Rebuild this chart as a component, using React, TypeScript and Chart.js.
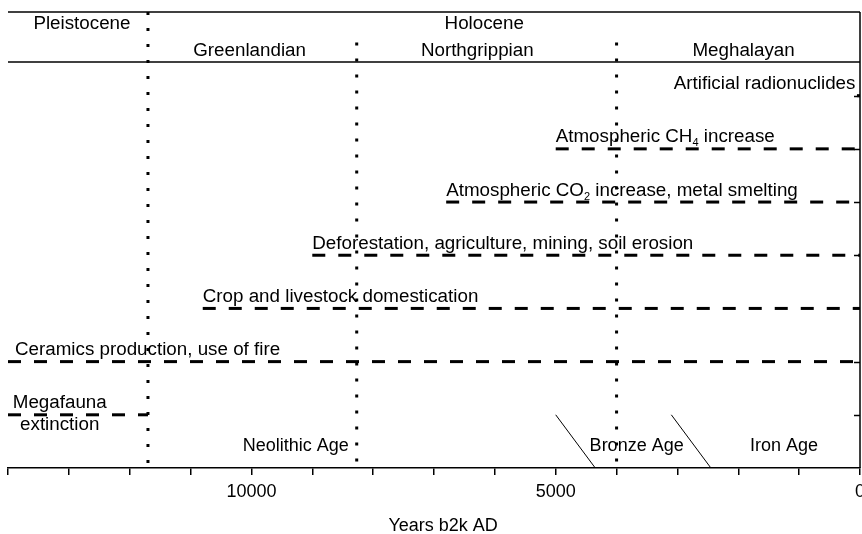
import React, { useEffect, useRef } from "react";
import { Chart, registerables } from "chart.js";
Chart.register(...registerables);

const FONT = '"Liberation Sans", Arial, Helvetica, sans-serif';

// X axis (years b2k, reversed)
const xMin = 0;
const xMax = 14000;
const xStep = 1000;
const xTickLabels = [10000, 5000, 0];
const xTitle = "Years b2k AD";
const xTitleAt = 6850;

// Y extent (rows 1..7, header above)
const yMax = 8.573;
const headerLineY = [8.573, 7.633];

// Event rows
const rowLabels = [
  "Megafauna",
  "Ceramics production, use of fire",
  "Crop and livestock domestication",
  "Deforestation, agriculture, mining, soil erosion",
  "Atmospheric CO_2 increase, metal smelting",
  "Atmospheric CH_4 increase",
  "Artificial radionuclides",
];
const rowY = [1, 2, 3, 4, 5, 6, 7];
const rowStart = [14000, 14000, 10800, 9000, 6800, 5000, 50];
const rowEnd = [11700, 0, 0, 0, 0, 0, 0];
const labelX = [13150, 13885, 10800, 9000, 6800, 5000, 75];
const labelAlign = ["center", "left", "left", "left", "left", "left", "right"];
const extraLabel = "extinction";
const extraLabelX = 13150;

// Epochs / ages
const epochNames = ["Pleistocene", "Holocene"];
const epochX = [12785, 6174];
const epochTextY = 8.25;
const ageNames = ["Greenlandian", "Northgrippian", "Meghalayan"];
const ageX = [10030, 6289, 1913];
const ageTextY = 7.74;
const boundaries = [11700, 8270, 4000];
const boundaryTop = [8.573, 8.0, 8.0];

// Cultural ages
const cultureNames = ["Neolithic Age", "Bronze Age", "Iron Age"];
const cultureX = [9270, 3670, 1250];
const cultureTextY = 0.32;
const transitionTopX = [5000, 3100];
const transitionBottomX = [4350, 2450];
const transitionTopY = 1;
const transitionBottomY = 0;

function drawRich(ctx: CanvasRenderingContext2D, text: string, x: number, y: number, align: string, size = 18) {
  const parts = text.split(/_(\d)/);
  const base = `${size}px ${FONT}`;
  const sub = `${Math.round(size * 0.6)}px ${FONT}`;
  let total = 0;
  parts.forEach((p, i) => {
    ctx.font = i % 2 ? sub : base;
    total += ctx.measureText(p).width;
  });
  let cx = align === "left" ? x : align === "right" ? x - total : x - total / 2;
  ctx.textAlign = "left";
  ctx.textBaseline = "alphabetic";
  parts.forEach((p, i) => {
    ctx.font = i % 2 ? sub : base;
    ctx.fillText(p, cx, i % 2 ? y + 4 : y);
    cx += ctx.measureText(p).width;
  });
}

export default function App() {
  const ref = useRef<HTMLCanvasElement>(null);
  useEffect(() => {
    const canvas = ref.current!;
    const datasets: any[] = [];
    const common = { borderColor: "#000", pointRadius: 0, fill: false, clip: false, tension: 0 };
    rowStart.forEach((s, i) => {
      datasets.push({
        ...common,
        data: [{ x: s, y: rowY[i] }, { x: rowEnd[i], y: rowY[i] }],
        borderWidth: 3,
        borderDash: [13, 13],
      });
    });
    boundaries.forEach((b, i) => {
      datasets.push({
        ...common,
        data: [{ x: b, y: boundaryTop[i] }, { x: b, y: 0 }],
        borderWidth: 3,
        borderDash: [3, 13],
      });
    });
    headerLineY.forEach((v) => {
      datasets.push({ ...common, data: [{ x: xMax, y: v }, { x: xMin, y: v }], borderWidth: 1.5 });
    });
    // right border
    datasets.push({ ...common, data: [{ x: xMin, y: yMax }, { x: xMin, y: 0 }], borderWidth: 1.5 });
    transitionTopX.forEach((t, i) => {
      datasets.push({
        ...common,
        data: [{ x: t, y: transitionTopY }, { x: transitionBottomX[i], y: transitionBottomY }],
        borderWidth: 1,
      });
    });

    const annot = {
      id: "annot",
      afterDatasetsDraw(chart: any) {
        const ctx: CanvasRenderingContext2D = chart.ctx;
        const xs = chart.scales.x;
        const ys = chart.scales.y;
        ctx.save();
        ctx.fillStyle = "#000";
        ctx.strokeStyle = "#000";
        // right-axis inward ticks
        ctx.lineWidth = 1.5;
        rowY.forEach((r) => {
          const py = Math.round(ys.getPixelForValue(r)) + 0.5;
          const px = xs.getPixelForValue(xMin);
          ctx.beginPath();
          ctx.moveTo(px - 6, py);
          ctx.lineTo(px, py);
          ctx.stroke();
        });
        const big = 18.8;
        rowLabels.forEach((t, i) => {
          drawRich(ctx, t, xs.getPixelForValue(labelX[i]), ys.getPixelForValue(rowY[i]) - 6.5, labelAlign[i], big);
        });
        drawRich(ctx, extraLabel, xs.getPixelForValue(extraLabelX), ys.getPixelForValue(rowY[0]) + 15, "center", big);
        epochNames.forEach((t, i) => drawRich(ctx, t, xs.getPixelForValue(epochX[i]), ys.getPixelForValue(epochTextY), "center", big));
        ageNames.forEach((t, i) => drawRich(ctx, t, xs.getPixelForValue(ageX[i]), ys.getPixelForValue(ageTextY), "center", big));
        cultureNames.forEach((t, i) => drawRich(ctx, t, xs.getPixelForValue(cultureX[i]), ys.getPixelForValue(cultureTextY), "center", 18));
        drawRich(ctx, xTitle, xs.getPixelForValue(xTitleAt), xs.bottom - 3, "center", 18);
        ctx.restore();
      },
    };

    const chart = new Chart(canvas, {
      type: "line",
      data: { datasets },
      options: {
        animation: false,
        responsive: false,
        devicePixelRatio: 1,
        layout: { padding: { left: 8, right: 20, top: 12, bottom: 0 } },
        plugins: { legend: { display: false }, tooltip: { enabled: false } },
        scales: {
          x: {
            type: "linear",
            reverse: true,
            min: xMin,
            max: xMax,
            afterFit: (scale: any) => {
              scale.height = 66;
            },
            border: { display: true, color: "#000", width: 1.5 },
            grid: { display: true, drawOnChartArea: false, drawTicks: true, tickLength: 7, color: "#000", lineWidth: 1.5 },
            ticks: {
              stepSize: xStep,
              autoSkip: false,
              maxRotation: 0,
              color: "#000",
              padding: 6,
              font: { family: FONT, size: 18 },
              callback: (v: any) => (xTickLabels.includes(Number(v)) ? String(v) : ""),
            },
          },
          y: {
            type: "linear",
            display: false,
            min: 0,
            max: yMax,
          },
        },
      },
      plugins: [annot],
    } as any);
    return () => chart.destroy();
  }, []);
  return (
    <div style={{ position: "absolute", left: 0, top: 0, width: 862, height: 534, overflow: "hidden", background: "#fff" }}>
      <canvas ref={ref} width={880} height={534} style={{ display: "block", width: 880, height: 534 }} />
    </div>
  );
}
